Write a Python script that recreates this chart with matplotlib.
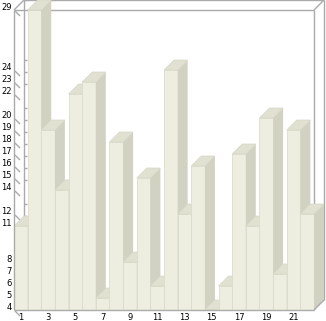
import matplotlib
matplotlib.use("Agg")
import matplotlib.pyplot as plt
from matplotlib.transforms import ScaledTranslation

# data
positions = list(range(1, 23))
values = [11, 29, 19, 14, 22, 23, 5, 18, 8, 15, 6, 24, 12, 16, 4, 6, 17, 11, 20, 7, 19, 12]
x_ticks = list(range(1, 22, 2))
x_labels = [str(i) for i in x_ticks]
y_ticks = sorted(set(values))
y_labels = [str(v) for v in y_ticks]
y_min, y_max = 4, 29

FRONT = '#EEEEE0'
SIDE = '#D2D2C2'
TOP = '#E1E1D2'
EDGE = '#DCDCCD'
FRAME = '#AAAAAA'

W, H = 326, 321
fig = plt.figure(figsize=(W / 100, H / 100), dpi=100)
left_px, top_px, size_px, depth_px = 14, 10, 300, 10
ax = fig.add_axes([left_px / W, (H - top_px - size_px) / H, size_px / W, size_px / H])
x0, x1 = 0.5, len(positions) + 0.5
ax.set_xlim(x0, x1)
ax.set_ylim(y_min, y_max)

# pixel -> data units
px_x = (x1 - x0) / size_px
px_y = (y_max - y_min) / size_px
dx, dy = depth_px * px_x, depth_px * px_y

for s in ax.spines.values():
    s.set_visible(False)
ax.tick_params(length=0)

# back wall / box frame
kw = dict(color=FRAME, lw=1, clip_on=False, solid_capstyle='butt')
ax.plot([x0 + dx, x1 + dx], [y_max + dy, y_max + dy], zorder=1, **kw)
ax.plot([x0 + dx, x0 + dx], [y_min + dy, y_max + dy], zorder=1, **kw)
ax.plot([x1 + dx, x1 + dx], [y_min + dy, y_max + dy], zorder=1, **kw)
ax.plot([x0, x1], [y_max, y_max], zorder=1, **kw)
ax.plot([x1, x1], [y_min, y_max], zorder=1, **kw)
ax.plot([x0, x0 + dx], [y_max, y_max + dy], zorder=1, **kw)
ax.plot([x1, x1 + dx], [y_max, y_max + dy], zorder=1, **kw)

# ticks on the left: short diagonals + stubs on the back wall
for v in y_ticks:
    ax.plot([x0 + px_x, x0 + 6 * px_x], [v - px_y, v - 6 * px_y], zorder=1, **kw)
    ax.plot([x0 + dx, x0 + dx + 3 * px_x], [v + dy, v + dy], zorder=1, **kw)

# bars, drawn left to right so each one hides its neighbour's side face
bars = ax.bar(positions, [v - y_min for v in values], bottom=y_min, width=1.0,
              color=FRONT, edgecolor=EDGE, linewidth=0.6)
for i, (b, v) in enumerate(zip(bars, values)):
    z = 3 + 0.01 * i
    b.set_zorder(z)
    xl = b.get_x()
    xr = xl + b.get_width()
    ax.fill([xr, xr + dx, xr + dx, xr], [y_min, y_min + dy, v + dy, v],
            color=SIDE, lw=0, zorder=z + 0.004, clip_on=False)
    ax.fill([xl, xr, xr + dx, xl + dx], [v, v, v + dy, v + dy],
            color=TOP, ec='#D8D8C9', lw=0.5, zorder=z + 0.005, clip_on=False)

# front axis lines over the bars
ax.plot([x0, x0], [y_min, y_max], zorder=5, **kw)
ax.plot([x0, x1], [y_min, y_min], zorder=5, **kw)
ax.plot([x1, x1 + dx], [y_min, y_min + dy], zorder=5, **kw)

ax.set_xticks(x_ticks, x_labels)
ax.set_yticks(y_ticks, y_labels)
ax.tick_params(axis='y', pad=1.5, labelsize=6)
ax.tick_params(axis='x', pad=2.5, labelsize=6)
shift = ScaledTranslation(0, 0.03, fig.dpi_scale_trans)
for lab in ax.get_yticklabels():
    lab.set_transform(lab.get_transform() + shift)

fig.savefig('out.png', dpi=100)
